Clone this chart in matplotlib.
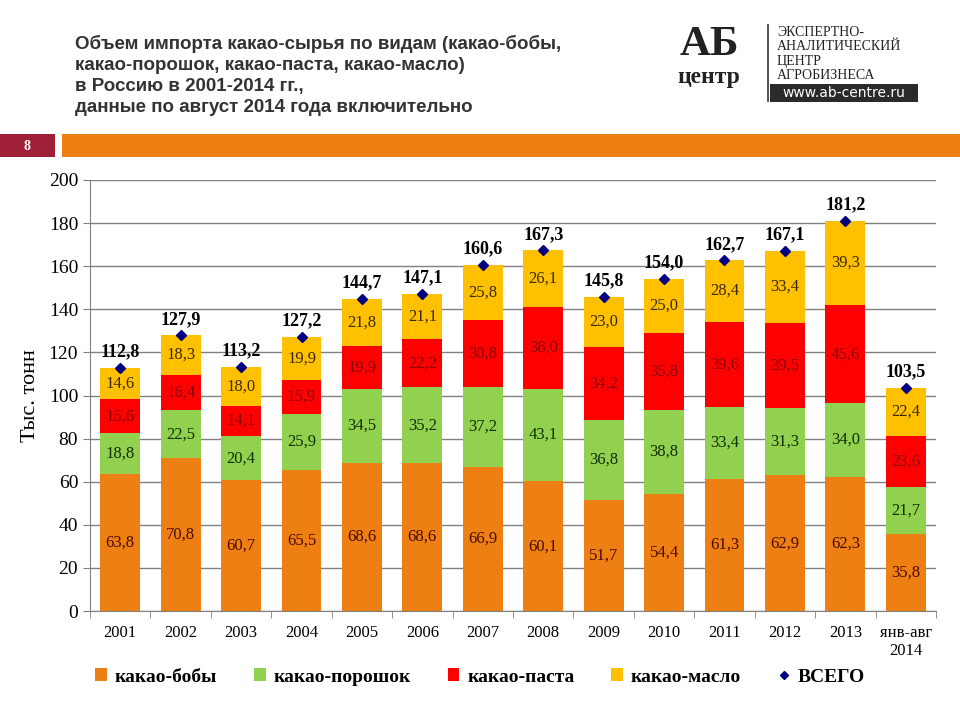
import numpy as np
import matplotlib
matplotlib.use("Agg")
import matplotlib.pyplot as plt
from matplotlib.patches import Rectangle
from matplotlib.lines import Line2D

# Данные (тыс. тонн)
years = ["2001", "2002", "2003", "2004", "2005", "2006", "2007",
         "2008", "2009", "2010", "2011", "2012", "2013", "янв-авг\n2014"]
beans = [63.8, 70.8, 60.7, 65.5, 68.6, 68.6, 66.9, 60.1, 51.7, 54.4, 61.3, 62.9, 62.3, 35.8]
powder = [18.8, 22.5, 20.4, 25.9, 34.5, 35.2, 37.2, 43.1, 36.8, 38.8, 33.4, 31.3, 34.0, 21.7]
paste = [15.6, 16.4, 14.1, 15.9, 19.9, 22.2, 30.8, 38.0, 34.2, 35.8, 39.6, 39.5, 45.6, 23.6]
butter = [14.6, 18.3, 18.0, 19.9, 21.8, 21.1, 25.8, 26.1, 23.0, 25.0, 28.4, 33.4, 39.3, 22.4]
total = [112.8, 127.9, 113.2, 127.2, 144.7, 147.1, 160.6, 167.3, 145.8, 154.0, 162.7, 167.1, 181.2, 103.5]

series_names = ["какао-бобы", "какао-порошок", "какао-паста", "какао-масло"]
colors = ["#EE7F12", "#92D050", "#FF0000", "#FFC000"]
text_colors = ["#4a0a00", "#103000", "#8a0000", "#3a2a00"]

SERIF = ["Liberation Serif", "DejaVu Serif"]
NARROW = ["Liberation Sans Narrow", "Liberation Sans", "DejaVu Sans"]


def fmt(v):
    return f"{v:.1f}".replace(".", ",")


fig = plt.figure(figsize=(9.6, 7.2), dpi=100)
W, H = 960, 720

# Заголовок
title = ("Объем импорта какао-сырья по видам (какао-бобы,\n"
         "какао-порошок, какао-паста, какао-масло)\n"
         "в Россию в 2001-2014 гг.,\n"
         "данные по август 2014 года включительно")
fig.text(75 / W, 1 - 35 / H, title, ha="left", va="top", fontsize=13.5,
         fontweight="bold", family=NARROW, color="#333333", linespacing=1.3)

# Полосы под заголовком
fig.patches.append(Rectangle((0, 1 - 157 / H), 55 / W, 23 / H, transform=fig.transFigure,
                             facecolor="#9E1F37", edgecolor="none"))
fig.text(27 / W, 1 - 146 / H, "8", ha="center", va="center", color="white",
         fontsize=10, fontweight="bold", family=SERIF)
fig.patches.append(Rectangle((62 / W, 1 - 157 / H), (W - 62) / W, 23 / H, transform=fig.transFigure,
                             facecolor="#EE7F12", edgecolor="none"))

# Логотип
fig.text(709 / W, 1 - 45 / H, "АБ", ha="center", va="center", fontsize=31,
         fontweight="bold", family=SERIF, color="#222222")
fig.text(709 / W, 1 - 78 / H, "центр", ha="center", va="center", fontsize=17,
         fontweight="bold", family=SERIF, color="#222222")
fig.add_artist(Line2D([768 / W, 768 / W], [1 - 25 / H, 1 - 101 / H], transform=fig.transFigure,
                      color="#333333", lw=1.2))
for i, line in enumerate(["ЭКСПЕРТНО-", "АНАЛИТИЧЕСКИЙ", "ЦЕНТР", "АГРОБИЗНЕСА"]):
    fig.text(777 / W, 1 - (32 + 14.5 * i) / H, line, ha="left", va="center", fontsize=10,
             family=SERIF, color="#222222")
fig.patches.append(Rectangle((770 / W, 1 - 102 / H), 148 / W, 18 / H, transform=fig.transFigure,
                             facecolor="#2a2a2a", edgecolor="none"))
fig.text(844 / W, 1 - 93 / H, "www.ab-centre.ru", ha="center", va="center", fontsize=10,
         family=["DejaVu Sans"], color="white")

# График
ax = fig.add_axes([90 / W, 1 - 611 / H, 846 / W, 431 / H])
x = np.arange(len(years))
bottom = np.zeros(len(years))
for vals, name, c, tc in zip([beans, powder, paste, butter], series_names, colors, text_colors):
    vals = np.array(vals)
    ax.bar(x, vals, width=0.66, bottom=bottom, color=c, label=name, zorder=2)
    for xi, b, v in zip(x, bottom, vals):
        ax.text(xi, b + v / 2, fmt(v), ha="center", va="center", fontsize=12,
                family=SERIF, color=tc, zorder=4)
    bottom = bottom + vals

ax.plot(x, total, linestyle="none", marker="D", markersize=5, color="#000080",
        label="ВСЕГО", zorder=5)
for xi, t in zip(x, total):
    ax.text(xi, t + 3.5, fmt(t), ha="center", va="bottom", fontsize=13,
            fontweight="bold", family=SERIF, color="black", zorder=5)

ax.set_xlim(-0.5, len(years) - 0.5)
ax.set_ylim(0, 200)
ax.set_yticks(np.arange(0, 201, 20))
ax.yaxis.grid(True, color="#808080", lw=1)
ax.set_axisbelow(True)
ax.set_xticks(x)
ax.set_xticklabels(years, family=SERIF, fontsize=12)
ax.set_xticks(np.arange(-0.5, len(years), 1), minor=True)
ax.tick_params(axis="x", which="major", length=0, pad=10)
ax.tick_params(axis="x", which="minor", length=5, color="#808080")
ax.tick_params(axis="y", length=5, color="#808080", labelsize=14)
for lab in ax.get_yticklabels():
    lab.set_family(SERIF)
for s in ["top", "right"]:
    ax.spines[s].set_visible(False)
for s in ["left", "bottom"]:
    ax.spines[s].set_color("#808080")
ax.set_ylabel("Тыс. тонн", family=SERIF, fontsize=16, labelpad=6)

handles, labels = ax.get_legend_handles_labels()
order = [1, 2, 3, 4, 0]
leg = fig.legend([handles[i] for i in order], [labels[i] for i in order],
                 loc="center", bbox_to_anchor=(480 / W, 1 - 677 / H), ncol=5, frameon=False,
                 prop={"family": SERIF, "size": 14, "weight": "bold"},
                 handlelength=0.6, handleheight=0.6, handletextpad=0.4, columnspacing=1.9,
                 markerscale=0.9)

fig.savefig("out.png", dpi=100)
